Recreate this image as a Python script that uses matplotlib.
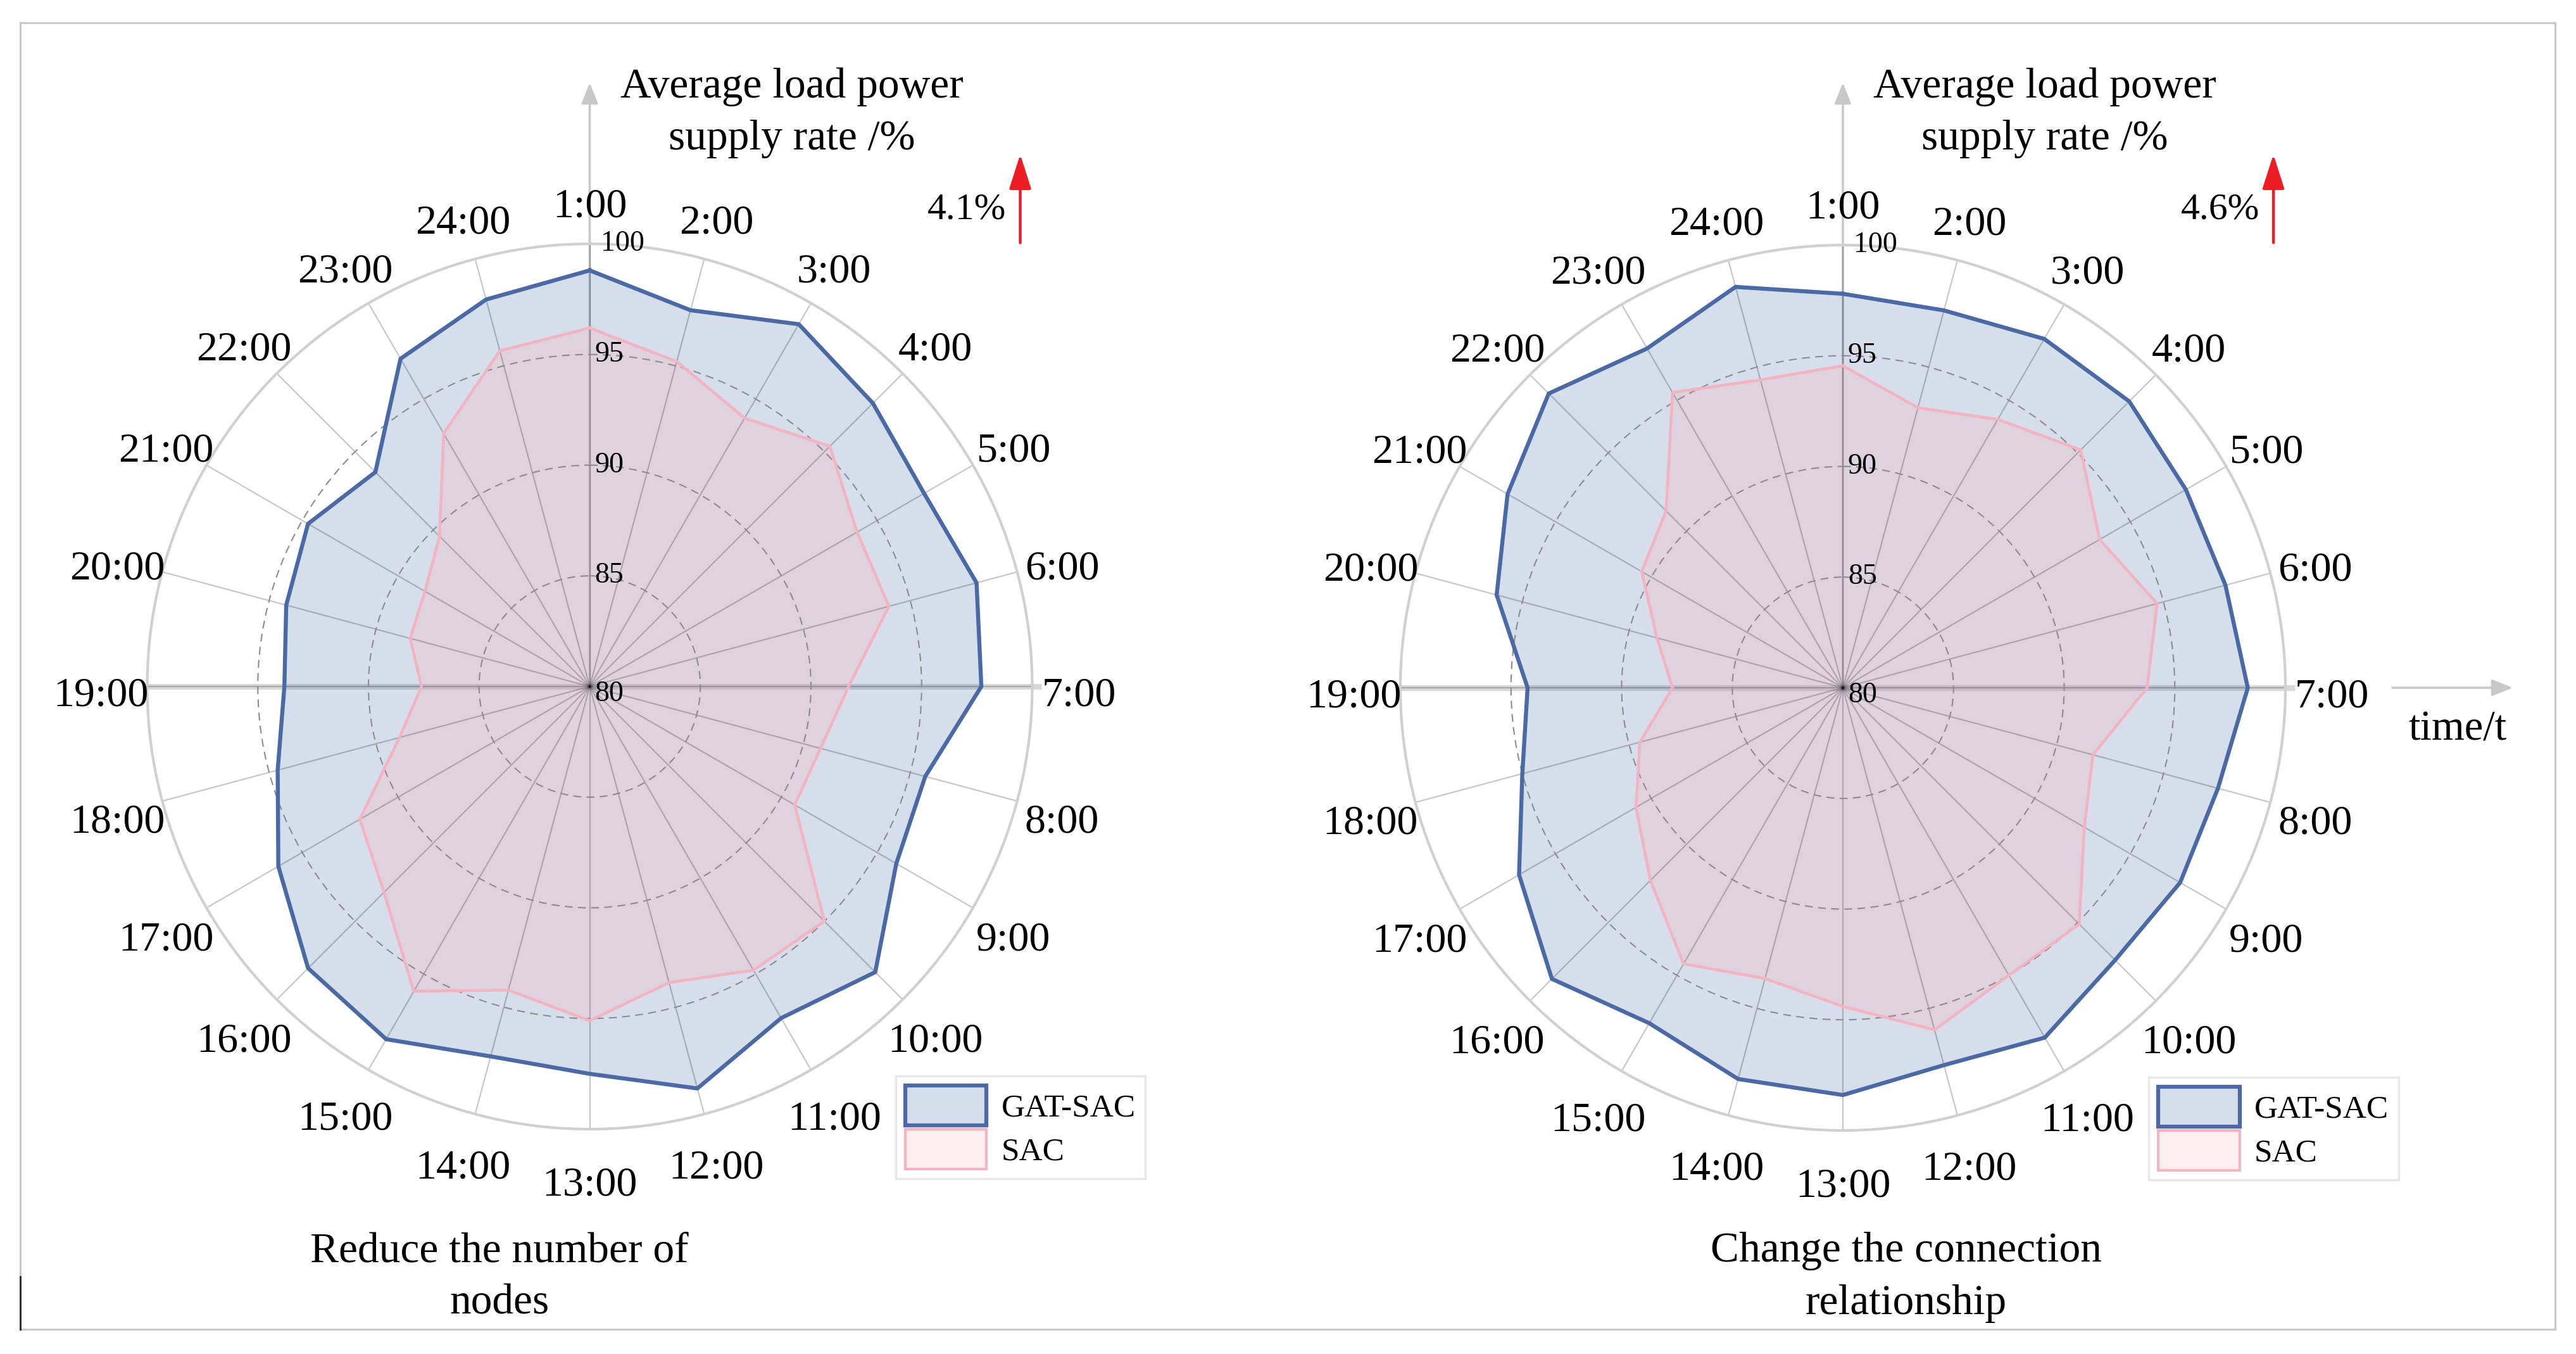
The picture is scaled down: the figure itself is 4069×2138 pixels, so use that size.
import numpy as np
import matplotlib
matplotlib.use("Agg")
import matplotlib.pyplot as plt
from matplotlib.patches import Patch
import matplotlib.transforms as mtransforms

plt.rcParams['font.family'] = ['Liberation Serif', 'DejaVu Serif']

# hours around the dial, clockwise from the top
hours = [f"{h}:00" for h in range(1, 25)]
r_labels = [80, 85, 90, 95, 100]

# left panel: reduce the number of nodes
gat_nodes = [98.8, 97.6, 98.9, 98.1, 97.45, 98.1, 97.7, 95.7, 96.0, 98.25, 97.3, 98.8,
             97.5, 97.3, 98.4, 98.0, 96.25, 94.6, 93.8, 94.2, 94.7, 93.7, 97.1, 98.1]
sac_nodes = [96.2, 95.2, 94.0, 95.35, 93.95, 94.0, 91.7, 90.8, 90.7, 95.0, 94.8, 93.85,
             95.1, 94.2, 95.9, 93.15, 92.0, 88.9, 87.6, 88.4, 88.6, 89.6, 93.2, 95.7]

# right panel: change the connection relationship
gat_conn = [97.8, 97.65, 98.2, 98.3, 97.9, 97.9, 98.3, 97.55, 97.6, 97.4, 98.25, 97.65,
            98.4, 98.3, 97.5, 98.6, 96.9, 95.0, 94.25, 96.2, 97.5, 98.8, 97.7, 98.75]
sac_conn = [94.55, 93.1, 94.0, 95.2, 93.4, 94.7, 93.75, 91.7, 92.6, 95.1, 95.0, 96.0,
            94.4, 93.6, 94.4, 92.3, 90.8, 89.5, 87.7, 88.7, 90.5, 91.3, 95.4, 94.4]

captions = ["Reduce the number of\nnodes", "Change the connection\nrelationship"]
gains = ["4.1%", "4.6%"]
y_title = "Average load power\nsupply rate /%"

W, H = 4069, 2138
fig = plt.figure(figsize=(W / 100, H / 100), dpi=100)

# pixel-space layer for frame, axis arrows and free text
bg = fig.add_axes([0, 0, 1, 1], zorder=0)
bg.set_xlim(0, W)
bg.set_ylim(H, 0)
bg.axis('off')

BLUE = '#4a69a6'
PINK = '#f4b3c1'
AXIS_GREY = '#d8d8d8'
R = 699
centers = [(931.5, 1084), (2911, 1086)]
caption_x = [789, 3011]

theta = np.deg2rad(np.arange(24) * 15)
th = np.append(theta, theta[0])

# outer frame
bg.plot([32, 4036, 4036, 32, 32], [36, 36, 2099, 2099, 36], color='#c8c8c8', lw=2.2)
bg.plot([32, 32], [2016, 2099], color='#333333', lw=2.2)


def draw_panel(k, gat, sac):
    cx, cy = centers[k]

    # coordinate axes behind the radar
    bg.plot([cx - R, cx + R + 15], [cy, cy], color=AXIS_GREY, lw=6.5, solid_capstyle='butt')
    bg.annotate('', xy=(cx, 128), xytext=(cx, cy),
                arrowprops=dict(arrowstyle='-|>,head_length=0.5,head_width=0.2',
                                color='#c8c8c8', lw=2.6, mutation_scale=40))
    bg.text(cx + 319, 178, y_title, ha='center', va='center', fontsize=48.5,
            linespacing=1.45)

    # improvement marker
    bg.annotate('', xy=(cx + 680, 241), xytext=(cx + 680, 386),
                arrowprops=dict(arrowstyle='-|>,head_length=0.75,head_width=0.24',
                                color='#ee1d23', lw=3.2, mutation_scale=45))
    bg.text(cx + 596, 332, gains[k], ha='center', va='center', fontsize=43)

    bg.text(caption_x[k], 2017, captions[k], ha='center', va='center', fontsize=48.5,
            linespacing=1.45)

    ax = fig.add_axes([(cx - R) / W, (H - cy - R) / H, 2 * R / W, 2 * R / H],
                      projection='polar', zorder=2)
    ax.set_facecolor('none')
    ax.set_theta_zero_location('N')
    ax.set_theta_direction(-1)
    ax.set_ylim(80, 100)

    ax.set_xticks(theta)
    ax.set_xticklabels([])
    ax.set_yticks([85, 90, 95])
    ax.set_yticklabels([])
    ax.tick_params(length=0)
    ax.xaxis.grid(True, color='k', alpha=0.22, lw=1.6)
    ax.yaxis.grid(True, color='#8c8c8c', lw=1.5, ls=(0, (6, 4)))
    ax.set_axisbelow('line')
    ax.spines['polar'].set_color('#d0d0d0')
    ax.spines['polar'].set_linewidth(3)

    g = np.append(gat, gat[0])
    s = np.append(sac, sac[0])
    ax.fill(th, g, color=BLUE, alpha=0.22, lw=0)
    ax.fill(th, s, color=PINK, alpha=0.28, lw=0)
    ax.plot(th, g, color=BLUE, lw=4.6, zorder=3)
    ax.plot(th, s, color=PINK, lw=3.3, zorder=3)

    lab_tr = mtransforms.offset_copy(ax.transData, fig=fig, x=0, y=-15, units='dots')
    for i, lab in enumerate(hours):
        ax.text(theta[i], 102.1, lab, transform=lab_tr, ha='center', va='center',
                fontsize=47.5, clip_on=False)

    for v in r_labels:
        dx = 17 if v == 100 else 8
        dy = -12 if v == 80 else 0
        tr = mtransforms.offset_copy(ax.transData, fig=fig, x=dx, y=dy, units='dots')
        ax.text(0, v, str(v), transform=tr, ha='left', va='center', fontsize=33,
                clip_on=False, zorder=4)

    handles = [Patch(facecolor='#d7deeb', edgecolor=BLUE, lw=4.5, label='GAT-SAC'),
               Patch(facecolor='#fdeef1', edgecolor=PINK, lw=3, label='SAC')]
    leg = ax.legend(handles=handles, loc='lower left',
                    bbox_to_anchor=((cx + 483) / W, 1 - (cy + 777) / H),
                    bbox_transform=fig.transFigure, fontsize=37, frameon=True,
                    fancybox=False, handlelength=2.5, handleheight=1.5,
                    handletextpad=0.45, labelspacing=0.12, borderpad=0.3,
                    borderaxespad=0)
    leg.get_frame().set_edgecolor('#e2e2e2')
    leg.get_frame().set_linewidth(2.5)


draw_panel(0, gat_nodes, sac_nodes)
draw_panel(1, gat_conn, sac_conn)

# time axis arrow on the right panel
cx, cy = centers[1]
bg.annotate('', xy=(3972, cy), xytext=(3776, cy),
            arrowprops=dict(arrowstyle='-|>,head_length=0.5,head_width=0.2',
                            color='#c8c8c8', lw=2.6, mutation_scale=40))
bg.text(3882, 1152, "time/t", ha='center', va='center', fontsize=48)

fig.savefig('out.png', dpi=100)
